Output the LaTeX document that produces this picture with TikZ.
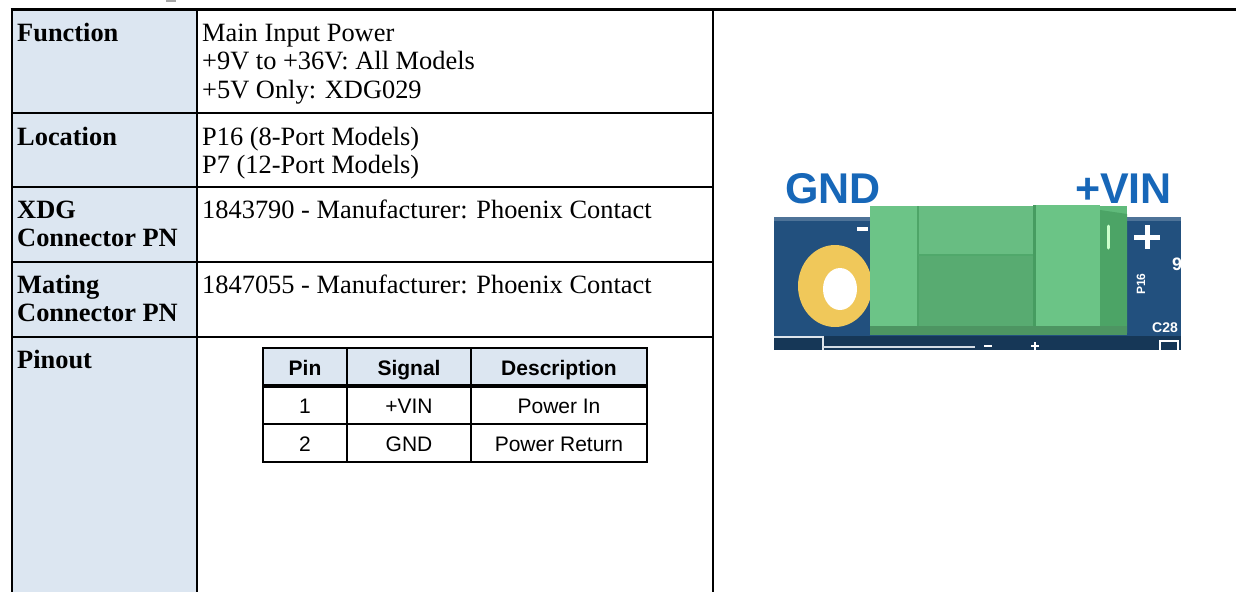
\documentclass[tikz,border=0pt]{standalone}
\usepackage{fontspec}
\setmainfont{Liberation Serif}
\newfontfamily\arialf{Liberation Sans}
\definecolor{lblue}{HTML}{DCE6F1}
\definecolor{pcb}{HTML}{22507E}
\definecolor{pcbdark}{HTML}{163757}
\definecolor{ring}{HTML}{F0C85A}
\definecolor{gbase}{HTML}{60BA7B}
\definecolor{glight}{HTML}{6CC487}
\definecolor{gdark}{HTML}{4CA466}
\definecolor{gseam}{HTML}{469C60}
\definecolor{labelblue}{HTML}{1767B8}
\begin{document}
\begin{tikzpicture}[x=1pt,y=-1pt,
  lbl/.style={anchor=base west, inner sep=0pt, font=\fontsize{26.4}{28.5}\selectfont\bfseries},
  txt/.style={anchor=base west, inner sep=0pt, font=\fontsize{26.4}{28.5}\selectfont},
  cellt/.style={anchor=base, inner sep=0pt, font=\arialf\fontsize{21}{25}\selectfont},
  hcellt/.style={anchor=base, inner sep=0pt, font=\arialf\bfseries\fontsize{21}{25}\selectfont},
  rulel/.style={line width=2.6pt},
  inrule/.style={line width=2pt},
  silk/.style={white, inner sep=0pt, font=\arialf\bfseries},
  bluelbl/.style={labelblue, inner sep=0pt, font=\arialf\bfseries\fontsize{43}{46}\selectfont}
]
\useasboundingbox (0,0) rectangle (1236,592);
\fill[white] (0,0) rectangle (1236,592);

% clipped glyph at the very top
\fill[gray!70] (166,0) rectangle (176,2);

% ---------- main table ----------
\fill[lblue] (12,9) rectangle (197,592);
\draw[line width=3pt] (10.7,9) -- (1236,9);
\draw[rulel] (12,9) -- (12,592);
\draw[rulel] (197,9) -- (197,592);
\draw[rulel] (713,9) -- (713,592);
\foreach \yy in {113,187,262,337} \draw[rulel] (12,\yy) -- (713,\yy);

\node[lbl] (lfun) at (17,41) {Function};
\node[txt] (tfun1) at (202,41) {Main Input Power};
\node[txt] (tfun2) at (202,69.5) {+9V to +36V: All Models};
\node[txt] (tfun3) at (202,98) {+5V Only: XDG029};

\node[lbl] (lloc) at (17,145) {Location};
\node[txt] (tloc1) at (202,145) {P16 (8-Port Models)};
\node[txt] (tloc2) at (202,173.5) {P7 (12-Port Models)};

\node[lbl] (lxdg1) at (17,218) {XDG};
\node[lbl] (lxdg2) at (17,246.5) {Connector PN};
\node[txt] (txdg) at (202,218) {1843790 - Manufacturer: Phoenix Contact};

\node[lbl] (lmat1) at (17,293) {Mating};
\node[lbl] (lmat2) at (17,321.5) {Connector PN};
\node[txt] (tmat) at (202,293) {1847055 - Manufacturer: Phoenix Contact};

\node[lbl] (lpin) at (17,368) {Pinout};

% ---------- pinout table ----------
\fill[lblue] (263,348) rectangle (647,386);
\draw[inrule] (263,348) rectangle (647,462);
\draw[inrule] (347,348) -- (347,462);
\draw[inrule] (471,348) -- (471,462);
\draw[inrule] (263,424) -- (647,424);
\draw[line width=3.5pt] (263,386) -- (647,386);

\node[hcellt] (hpin) at (305,375) {Pin};
\node[hcellt] (hsig) at (409,375) {Signal};
\node[hcellt] (hdesc) at (559,375) {Description};
\node[cellt] (r1pin) at (305,413.5) {1};
\node[cellt] (r1sig) at (409,413.5) {+VIN};
\node[cellt] (r1desc) at (559,413.5) {Power In};
\node[cellt] (r2pin) at (305,451) {2};
\node[cellt] (r2sig) at (409,451) {GND};
\node[cellt] (r2desc) at (559,451) {Power Return};

% ---------- photo ----------
\begin{scope}
\clip (774,160) rectangle (1181,350);
\fill[pcb] (774,217) rectangle (1181,350);
\fill[pcb!80!white] (774,217) rectangle (1181,221);
\fill[pcbdark] (774,336) rectangle (1181,350);
% yellow ring
\fill[ring] (835,286) ellipse [x radius=37, y radius=41];
\fill[white] (840,289) ellipse [x radius=17, y radius=21];
% silkscreen outlines
\draw[white!85!pcb, line width=1.2pt] (774,337) -- (823,337) -- (823,350);
\draw[white!80!pcb, line width=1.5pt] (823,347) -- (975,347);
% connector
\fill[gbase] (870,206) rectangle (1127,335);
\fill[glight] (870,206) rectangle (918,335);
\fill[gbase!95!white] (918,206) rectangle (1033,255);
\fill[gbase!92!black] (918,255) rectangle (1033,335);
\fill[glight!95!gbase] (1036,205) rectangle (1100,335);
\fill[gdark] (1100,210) -- (1127,214) -- (1127,333) -- (1100,335) -- cycle;
\draw[gseam, line width=3pt] (1034,205) -- (1034,335);
\draw[gseam!70!gbase, line width=1.5pt] (918,206) -- (918,335);
\draw[gseam!60!gbase, line width=1.2pt] (918,255) -- (1033,255);
\draw[green!20!white, line width=3pt, line cap=round] (1108,226) -- (1108,248);
\fill[gbase!80!black] (870,326) rectangle (1127,335);
% silkscreen marks
\draw[white, line width=4pt] (857,229) -- (868,229);
\draw[white, line width=5pt] (1134,237) -- (1160,237);
\draw[white, line width=5pt] (1147,225) -- (1147,249);
\draw[white, line width=2pt] (984,346) -- (992,346);
\draw[white, line width=2pt] (1031,346) -- (1039,346);
\draw[white, line width=2pt] (1035,342) -- (1035,350);
\node[silk, font=\arialf\bfseries\fontsize{18}{20}\selectfont] (s9) at (1177,264) {9};
\node[silk, rotate=90, font=\arialf\bfseries\fontsize{12}{14}\selectfont] (sp16) at (1141,284) {P16};
\node[silk, font=\arialf\bfseries\fontsize{14}{16}\selectfont] (sc28) at (1165,328) {C28};
\draw[white, line width=1.5pt] (1160,341) rectangle (1178,352);
% blue labels
\node[bluelbl, anchor=base west] (gnd) at (785,203) {GND};
\node[bluelbl, anchor=base east] (vin) at (1172,203) {+VIN};
\end{scope}
\end{tikzpicture}
\end{document}
